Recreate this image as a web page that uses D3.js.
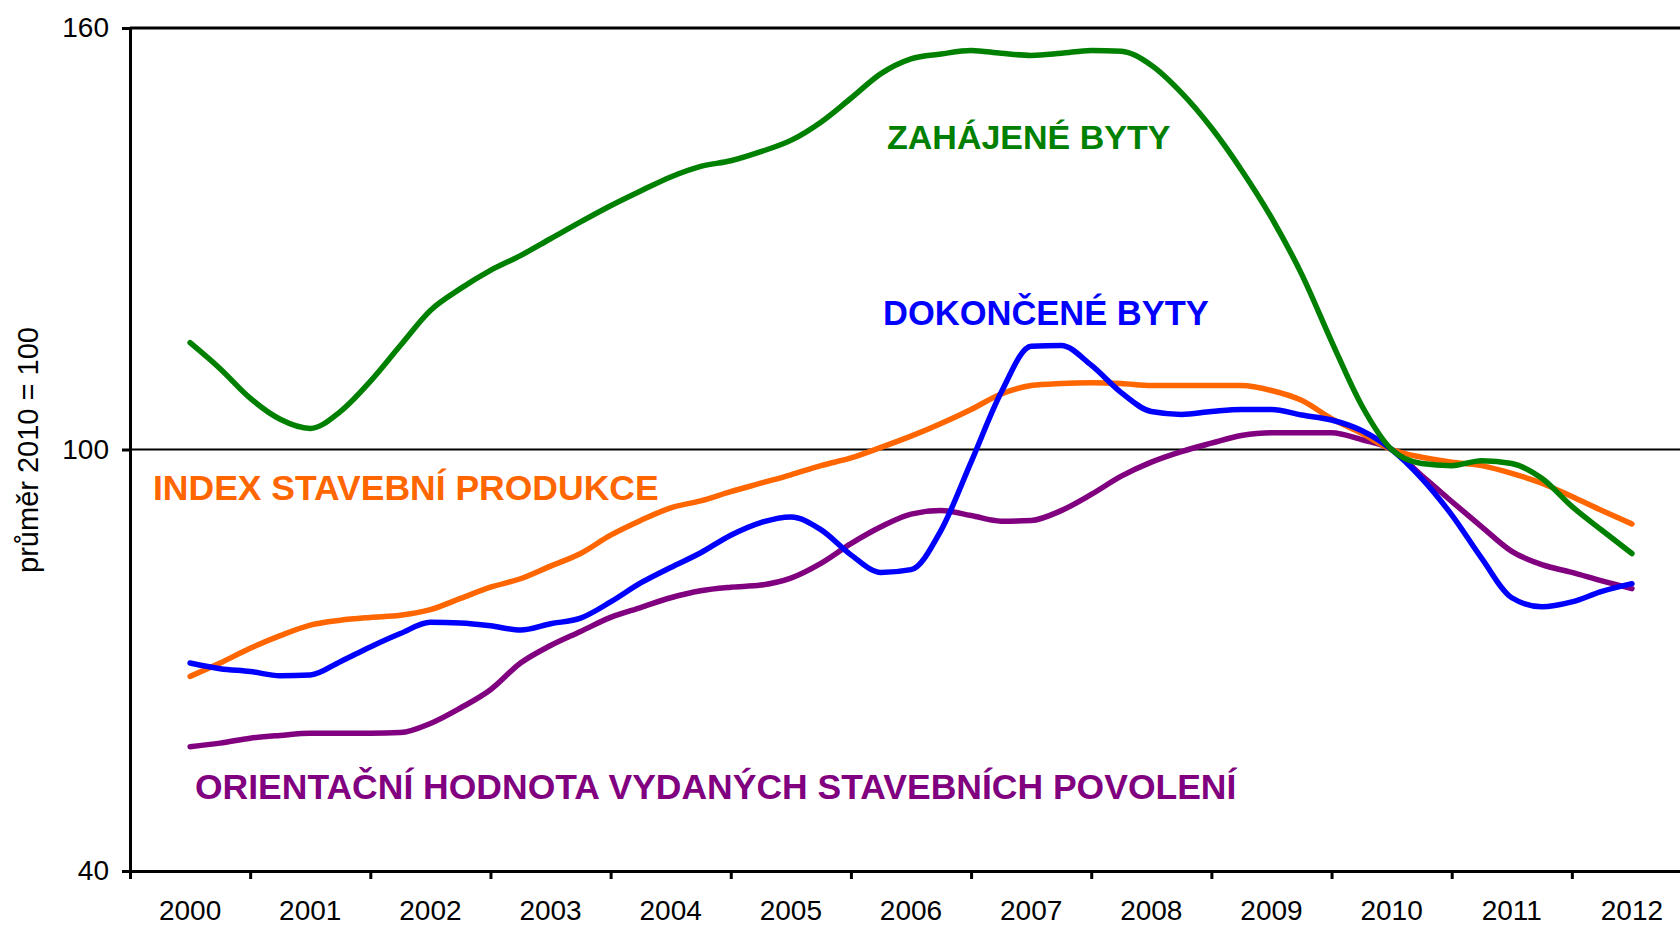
<!DOCTYPE html>
<html>
  <head>
    <meta charset="utf-8">
    <title>bytova vystavba</title>
    <script src="https://d3js.org/d3.v7.min.js"></script>
    <style>
      body { margin: 0; background: #fff; }
      svg text { font-family: Arial, "Liberation Sans", sans-serif; }
      .series { fill: none; stroke-linecap: round; stroke-linejoin: round; }
    </style>
  </head>
  <body>
    <svg id="chart" width="1680" height="925"></svg>
    <script>
	// quarterly values, index 2010 = 100, first point mid 2000, last point mid 2012
	var years = ["2000", "2001", "2002", "2003", "2004", "2005", "2006",
		"2007", "2008", "2009", "2010", "2011", "2012"];
	var yTicks = [40, 100, 160];

	var zahajene = [115.2, 111.5, 107.3, 104.3, 103.0, 105.4, 109.7, 114.8,
		119.8, 122.9, 125.5, 127.6, 130.0, 132.4, 134.7, 136.8,
		138.8, 140.3, 141.1, 142.4, 144.0, 146.6, 150.0, 153.5,
		155.6, 156.3, 156.8, 156.4, 156.1, 156.4, 156.8, 156.7,
		154.7, 150.8, 145.8, 139.8, 133.0, 125.0, 115.4, 106.3,
		100.0, 98.0, 97.7, 98.4, 98.0, 95.9, 91.9, 88.5, 85.2];
	var dokoncene = [69.6, 68.8, 68.4, 67.8, 67.9, 69.8, 71.9, 73.8,
		75.4, 75.3, 74.9, 74.3, 75.2, 76.0, 78.3, 81.0,
		83.2, 85.3, 87.8, 89.6, 90.4, 88.6, 85.0, 82.5,
		82.9, 88.5, 98.2, 108.1, 114.7, 114.8, 112.0, 108.1,
		105.4, 105.0, 105.4, 105.7, 105.7, 104.9, 104.2, 102.7,
		100.0, 95.9, 90.7, 84.5, 78.9, 77.6, 78.3, 79.8, 80.9];
	var produkce = [67.7, 69.6, 71.7, 73.5, 75.0, 75.7, 76.1, 76.4,
		77.2, 78.8, 80.4, 81.6, 83.4, 85.2, 87.8, 89.9,
		91.7, 92.7, 94.0, 95.2, 96.4, 97.7, 98.8, 100.3,
		101.9, 103.7, 105.7, 107.9, 109.1, 109.4, 109.5, 109.4,
		109.1, 109.1, 109.1, 109.1, 108.4, 107.0, 104.4, 102.3,
		100.0, 98.9, 98.2, 97.7, 96.6, 95.2, 93.3, 91.3, 89.4];
	var povoleni = [57.7, 58.2, 58.9, 59.3, 59.6, 59.6, 59.6, 59.7,
		61.0, 63.2, 65.8, 69.6, 72.1, 74.1, 76.1, 77.5,
		78.9, 79.9, 80.4, 80.7, 81.7, 83.8, 86.6, 89.0,
		90.8, 91.3, 90.6, 89.8, 89.9, 91.3, 93.6, 96.2,
		98.2, 99.7, 100.9, 102.0, 102.4, 102.4, 102.4, 101.4,
		100.0, 96.3, 92.6, 89.0, 85.5, 83.6, 82.5, 81.3, 80.2];

	var periods = d3.range(zahajene.length).map(function(i) {
		return 2000.5 + i / 4;
	});

	var series = [
		{ name: "ORIENTAČNÍ HODNOTA VYDANÝCH STAVEBNÍCH POVOLENÍ", values: povoleni, color: "#800080", lx: 195, ly: 799, fs: 35.5 },
		{ name: "INDEX STAVEBNÍ PRODUKCE", values: produkce, color: "#FF6600", lx: 153, ly: 500, fs: 35.5 },
		{ name: "DOKONČENÉ BYTY", values: dokoncene, color: "#0000FF", lx: 883, ly: 325, fs: 34.5 },
		{ name: "ZAHÁJENÉ BYTY", values: zahajene, color: "#008000", lx: 887, ly: 149, fs: 34 }
	];

	var plotLeft = 130, plotRight = 1692, plotTop = 28, plotBottom = 871;
	var svg = d3.select("#chart");

	var x = d3.scaleLinear().domain([2000, 2013]).range([plotLeft, plotRight]);
	var y = d3.scaleLinear().domain([40, 160]).range([plotBottom, plotTop]);

	// frame top + reference line at 100
	svg.append("line")
		.attr("x1", plotLeft).attr("x2", plotRight)
		.attr("y1", y(160)).attr("y2", y(160))
		.attr("stroke", "#000").attr("stroke-width", 3);
	svg.append("line")
		.attr("x1", plotLeft).attr("x2", plotRight)
		.attr("y1", y(100)).attr("y2", y(100))
		.attr("stroke", "#000").attr("stroke-width", 2);

	var xAxis = svg.append("g")
		.attr("transform", "translate(0," + plotBottom + ")")
		.call(d3.axisBottom(x)
			.tickValues(d3.range(2000, 2014))
			.tickFormat("")
			.tickSize(8)
			.tickSizeOuter(0));
	xAxis.select(".domain").attr("stroke-width", 3);
	xAxis.selectAll(".tick line").attr("stroke-width", 3);

	svg.selectAll("text.year")
		.data(years)
		.enter()
		.append("text")
		.attr("class", "year")
		.attr("x", function(d) { return x(+d + 0.5); })
		.attr("y", 920)
		.attr("text-anchor", "middle")
		.attr("font-size", 28)
		.text(function(d) { return d; });

	var yAxis = svg.append("g")
		.attr("transform", "translate(" + plotLeft + ",0)")
		.call(d3.axisLeft(y)
			.tickValues(yTicks)
			.tickSize(8)
			.tickSizeOuter(0)
			.tickPadding(13));
	yAxis.select(".domain").attr("stroke-width", 3);
	yAxis.selectAll(".tick line").attr("stroke-width", 3);
	yAxis.selectAll(".tick text")
		.attr("font-size", 28)
		.attr("font-family", "Arial, 'Liberation Sans', sans-serif")
		.attr("fill", "#000");

	svg.append("text")
		.attr("transform", "translate(38,450) rotate(-90)")
		.attr("text-anchor", "middle")
		.attr("font-size", 29)
		.text("průměr 2010 = 100");

	var line = d3.line()
		.x(function(d, i) { return x(periods[i]); })
		.y(function(d) { return y(d); })
		.curve(d3.curveMonotoneX);

	svg.selectAll("path.series")
		.data(series)
		.enter()
		.append("path")
		.attr("class", "series")
		.attr("d", function(d) { return line(d.values); })
		.attr("stroke", function(d) { return d.color; })
		.attr("stroke-width", 5.5);

	svg.selectAll("text.label")
		.data(series)
		.enter()
		.append("text")
		.attr("class", "label")
		.attr("x", function(d) { return d.lx; })
		.attr("y", function(d) { return d.ly; })
		.attr("font-size", function(d) { return d.fs; })
		.attr("font-weight", "bold")
		.attr("fill", function(d) { return d.color; })
		.text(function(d) { return d.name; });
    </script>
  </body>
</html>
